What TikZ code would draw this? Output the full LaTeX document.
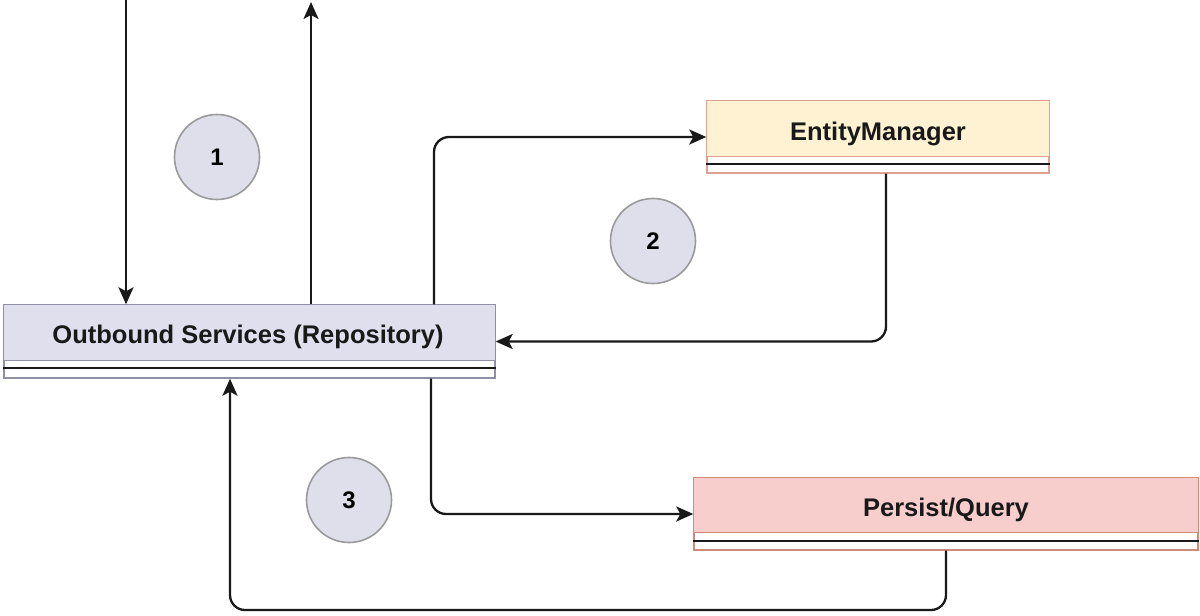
\documentclass[tikz,border=0pt]{standalone}
\usepackage{fontspec}
\setmainfont{Liberation Sans}
\usetikzlibrary{arrows.meta,calc}
\definecolor{obfill}{HTML}{DFDFEE}
\definecolor{obdraw}{HTML}{9090A4}
\definecolor{emfill}{HTML}{FFF2D2}
\definecolor{emdraw}{HTML}{E0A090}
\definecolor{pqfill}{HTML}{F8CECC}
\definecolor{pqdraw}{HTML}{D08A78}
\definecolor{cfill}{HTML}{DFDFEC}
\definecolor{cdraw}{HTML}{9A9A9A}
\tikzset{
  cls/.style={draw=#1, line width=1.4pt, fill=white, rectangle, inner sep=0pt},
  lbl/.style={font=\fontsize{25.5}{30}\selectfont\bfseries, text=black!90, inner sep=0pt},
  num/.style={circle, draw=cdraw, fill=cfill, line width=1.6pt, minimum size=85pt, inner sep=0pt, font=\fontsize{24}{28}\selectfont\bfseries},
  arr/.style={draw=black!90, line width=2.3pt, rounded corners=15pt, -{Stealth[length=17pt,width=15pt,inset=4pt]}},
  sep/.style={line width=2.2pt, black!90}
}
\begin{document}
\begin{tikzpicture}[x=1pt,y=1pt]
\useasboundingbox (0,0) rectangle (1200,-616);
\fill[white] (0,0) rectangle (1200,-616);

% Outbound Services
\node[cls=obdraw, minimum width=491pt, minimum height=73pt] (outb) at (249.5,-341.5) {};
\filldraw[fill=obfill, draw=obdraw, line width=1.4pt] (outb.north west) rectangle ([yshift=-56pt]outb.north east);
\draw[sep] ([yshift=-64pt]outb.north west) -- ([yshift=-64pt]outb.north east);
\node[lbl] (outbt) at (248,-337) {Outbound Services (Repository)};

% EntityManager
\node[cls=emdraw, minimum width=342pt, minimum height=72pt] (em) at (878,-137) {};
\filldraw[fill=emfill, draw=emdraw, line width=1.4pt] (em.north west) rectangle ([yshift=-56pt]em.north east);
\draw[sep] ([yshift=-64pt]em.north west) -- ([yshift=-64pt]em.north east);
\node[lbl] (emt) at (878,-134) {EntityManager};

% Persist/Query
\node[cls=pqdraw, minimum width=504pt, minimum height=72pt] (pq) at (946,-514) {};
\filldraw[fill=pqfill, draw=pqdraw, line width=1.4pt] (pq.north west) rectangle ([yshift=-55pt]pq.north east);
\draw[sep] ([yshift=-64pt]pq.north west) -- ([yshift=-64pt]pq.north east);
\node[lbl] (pqt) at (946,-510) {Persist/Query};

% numbered circles
\node[num] (n1) at (217,-157) {1};
\node[num] (n2) at (653,-241) {2};
\node[num] (n3) at (349,-500) {3};

% connectors
\coordinate (in1) at (126,0);
\coordinate (out1) at (311,-2);
\draw[arr] (in1) -- (in1 |- outb.north);
\draw[arr] (outb.north -| out1) -- (out1);

\coordinate (a2) at (434,0);
\draw[arr] (outb.north -| a2) |- (em.west);

\coordinate (b2) at (886,0);
\draw[arr] (em.south -| b2) |- (outb.east);

\coordinate (a3) at (431,0);
\draw[arr] (outb.south -| a3) |- (pq.west);

\coordinate (c3) at (230,-610);
\draw[arr] (pq.south) |- (c3) -- (c3 |- outb.south);
\end{tikzpicture}
\end{document}
